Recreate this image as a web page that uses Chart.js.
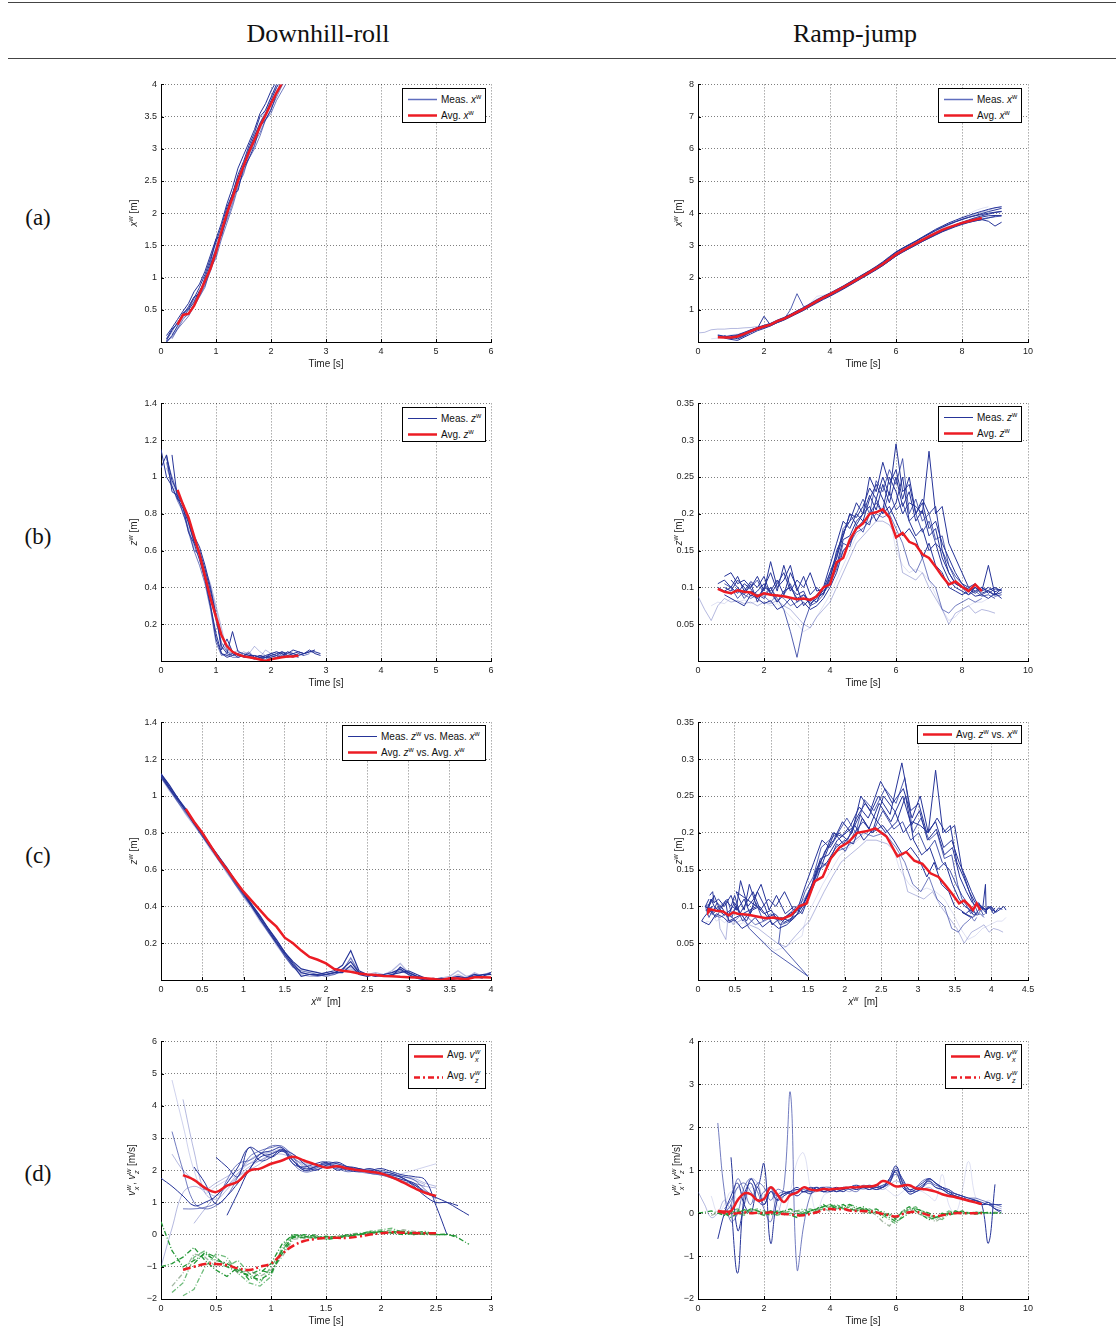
<!DOCTYPE html>
<html>
<head>
<meta charset="utf-8">
<script src="https://cdn.jsdelivr.net/npm/chart.js@4.4.1/dist/chart.umd.min.js"></script>
<style>
  body { margin: 0; background: #fff; width: 1116px; height: 1329px; position: relative; overflow: hidden; font-family: "Liberation Sans", Arial, sans-serif; }
  .rule { position: absolute; width: 1108px; border-top: 1.5px solid #444; }
  .title { position: absolute; font-family: "Liberation Serif", serif; font-size: 26px; color: #111; transform: translate(-50%, -50%); white-space: nowrap; }
  .rowlab { position: absolute; font-family: "Liberation Serif", serif; font-size: 23px; color: #111; transform: translate(-50%, -50%); }
  canvas { position: absolute; }
  .xt { position: absolute; font-size: 10px; color: #222; transform: translate(-50%, -50%); white-space: nowrap; }
  .yt { position: absolute; font-size: 10px; color: #222; transform: translate(-50%, -50%) rotate(-90deg); white-space: nowrap; }
  .leg { position: absolute; background: #fff; border: 1.5px solid #000; box-sizing: border-box; font-size: 10px; color: #111; }
  .lrow { position: absolute; left: 5px; display: flex; align-items: center; gap: 4px; transform: translateY(-50%); white-space: nowrap; }
  sup { font-size: 0.72em; line-height: 0; vertical-align: 0.55em; }
  .st { display: inline-flex; flex-direction: column; font-size: 0.72em; line-height: 1.05; vertical-align: 0.45em; margin-left: 0.5px; }
</style>
</head>
<body>
<script>
const _ = null;

// ---------- Downhill-roll: time grid (s) ----------
const DOWN_T = [0,0.1,0.2,0.3,0.4,0.5,0.6,0.7,0.8,0.9, 1,1.1,1.2,1.3,1.4,1.5,1.6,1.7,1.8,1.9, 2,2.1,2.2,2.3,2.4,2.5,2.6,2.7,2.8,2.9];

// (a) downhill x^w [m]
const downXAvg = [_,_,_,0.27,0.42,0.44,0.56,0.75,0.95,1.14, 1.4,1.72,2.0,2.24,2.5,2.73,2.95,3.14,3.35,3.52, 3.7,3.87,4.02];
const downX1 = [_,0.02,0.18,0.3,0.4,0.5,0.62,0.8,0.92,1.2, 1.45,1.68,2.05,2.3,2.55,2.75,3.0,3.2,3.4,3.55, 3.75,3.95,4.1,4.2];
const downX2 = [-0.05,0.0,0.1,0.25,0.42,0.55,0.7,0.75,1.0,1.25, 1.6,1.65,1.95,2.3,2.35,2.7,2.85,3.05,3.35,3.45, 3.6,3.85,4.0,4.1];
const downX3 = [_,_,0.05,0.2,0.35,0.45,0.58,0.72,0.88,1.1, 1.35,1.7,1.9,2.15,2.45,2.6,2.9,3.1,3.25,3.45, 3.62,3.8,3.98,4.1];
const downX4 = [_,0.05,0.2,0.28,0.45,0.52,0.68,0.85,1.05,1.3, 1.55,1.8,2.1,2.3,2.6,2.8,3.05,3.25,3.5,3.6, 3.8,4.0,4.15];
const downX5 = [-0.1,0.0,0.08,0.2,0.3,0.4,0.55,0.7,0.85,1.15, 1.3,1.6,1.85,2.1,2.4,2.65,2.85,3.0,3.2,3.45, 3.55,3.75,3.9,4.05];
const downX6 = [_,0.1,0.22,0.35,0.48,0.6,0.78,0.9,1.1,1.35, 1.6,1.85,2.15,2.4,2.7,2.9,3.1,3.3,3.55,3.7, 3.9,4.05];
const downX7 = [_,0.05,0.15,0.32,0.4,0.5,0.65,0.78,0.95,1.2, 1.5,1.75,2.0,2.3,2.55,2.8,3.0,3.2,3.4,3.6, 3.8,3.95,4.1];
const downX8 = [_,_,0.12,0.22,0.38,0.42,0.6,0.72,0.9,1.18, 1.4,1.62,1.95,2.2,2.5,2.72,2.95,3.15,3.3,3.5, 3.7,3.9,4.05,4.15];

// (b) downhill z^w [m]
const downZAvg = [_,_,_,0.93,0.85,0.78,0.68,0.58,0.46,0.34, 0.24,0.14,0.08,0.05,0.035,0.025,0.02,0.015,0.008,0.0, 0.01,0.015,0.02,0.025,0.025,0.03];
const downZ1 = [1.15,1.0,0.95,0.88,0.83,0.75,0.65,0.58,0.45,0.3, 0.15,0.04,0.03,0.04,0.02,0.03,0.02,0.01,0.02,0.03, 0.04,0.03,0.05,0.04,0.06,0.05,0.04,0.06,0.04,0.03];
const downZ2 = [1.05,1.12,0.92,0.9,0.85,0.78,0.68,0.62,0.52,0.4, 0.25,0.08,0.04,0.16,0.05,0.04,0.03,0.03,0.02,0.02, 0.03,0.04,0.05,0.03,0.04,0.05,0.04,0.05,0.06];
const downZ3 = [_,1.1,1.0,0.9,0.8,0.72,0.6,0.58,0.48,0.36, 0.22,0.1,0.05,0.03,0.04,0.03,0.02,0.03,0.02,0.01, 0.03,0.02,0.04,0.03,0.02,0.04,0.03];
const downZ4 = [_,1.12,0.98,0.92,0.84,0.7,0.64,0.55,0.44,0.3, 0.12,0.04,0.02,0.03,0.04,0.02,0.02,0.02,0.03,0.02, 0.04,0.05,0.04,0.02,0.03,0.02];
const downZ5 = [_,_,1.12,0.88,0.86,0.76,0.65,0.6,0.5,0.38, 0.25,0.06,0.12,0.05,0.03,0.03,0.04,0.02,0.01,0.02, 0.02,0.03,0.02,0.05,0.04,0.03,0.04,0.05,0.05,0.04];
const downZ6 = [_,1.05,0.97,0.9,0.82,0.76,0.62,0.56,0.48,0.4, 0.28,0.15,0.06,0.04,0.03,0.05,0.04,0.08,0.05,0.03, 0.02,0.04,0.03,0.04,0.05];
const downZ7 = [_,_,1.0,0.92,0.8,0.74,0.66,0.58,0.5,0.42, 0.3,0.18,0.05,0.04,0.06,0.03,0.03,0.03,0.02,0.06, 0.04,0.05,0.04,0.03,0.02,0.03];
const downZ8 = [_,1.08,0.95,0.87,0.81,0.7,0.6,0.52,0.42,0.28, 0.1,0.03,0.04,0.02,0.02,0.03,0.05,0.02,0.03,0.02, 0.01,0.02,0.03,0.05,0.03,0.04,0.03,0.04];

// (c) downhill z^w against x^w, x grid [m]
const DOWN_XG = [0,0.1,0.2,0.3,0.4,0.5,0.6,0.7,0.8,0.9, 1,1.1,1.2,1.3,1.4,1.5,1.6,1.7,1.8,1.9, 2,2.1,2.2,2.3,2.4,2.5,2.6,2.7,2.8,2.9, 3,3.1,3.2,3.3,3.4,3.5,3.6,3.7,3.8,3.9, 4];
const pathAvg = [_,_,_,0.93,0.86,0.8,0.73,0.66,0.6,0.54, 0.48,0.43,0.38,0.33,0.29,0.23,0.2,0.16,0.125,0.11, 0.09,0.06,0.05,0.045,0.035,0.03,0.027,0.022,0.02,0.017, 0.015,0.013,0.01,0.005,0.0,0.01,0.008,0.004,0.015,0.015, 0.013];
const path1 = [1.12,1.05,0.99,0.92,0.86,0.8,0.73,0.67,0.6,0.54, 0.47,0.41,0.34,0.28,0.21,0.15,0.09,0.04,0.03,0.025, 0.03,0.04,0.06,0.1,0.04,0.03,0.025,0.02,0.03,0.04, 0.05,0.03,0.01,0.0,0.0,0.01,0.02,0.01,0.02,0.03, 0.03];
const path2 = [1.11,1.04,0.98,0.92,0.85,0.79,0.72,0.66,0.6,0.53, 0.47,0.4,0.33,0.27,0.2,0.14,0.08,0.02,0.03,0.03, 0.04,0.05,0.08,0.16,0.05,0.03,0.02,0.03,0.04,0.06, 0.03,0.01,0.0,0.005,0.01,0.0,0.01,0.0,0.02,0.01];
const path3 = [1.1,1.04,0.97,0.91,0.85,0.78,0.72,0.65,0.59,0.52, 0.46,0.4,0.33,0.26,0.2,0.13,0.07,0.05,0.04,0.03, 0.02,0.03,0.05,0.12,0.04,0.03,0.03,0.02,0.03,0.05, 0.04,0.02,0.0,0.01,0.0,0.0,0.0,0.01,0.02,0.03, 0.04];
const path4 = [1.12,1.06,0.99,0.93,0.86,0.8,0.73,0.67,0.61,0.54, 0.48,0.41,0.35,0.28,0.22,0.15,0.1,0.06,0.05,0.04, 0.03,0.04,0.04,0.08,0.03,0.02,0.03,0.025,0.02,0.07, 0.04,0.02,0.01,0.0,0.0,0.005,0.01,0.01,0.03,0.02, 0.04];
const path5 = [1.1,1.03,0.97,0.9,0.84,0.78,0.71,0.65,0.58,0.52, 0.45,0.39,0.32,0.26,0.19,0.13,0.07,0.03,0.02,0.02, 0.03,0.04,0.06,0.07,0.04,0.03,0.04,0.03,0.05,0.09, 0.04,0.02,0.0,0.0,0.01,0.02,0.05,0.02,0.03,0.02];
const path6 = [1.11,1.05,0.98,0.92,0.85,0.79,0.72,0.66,0.59,0.53, 0.46,0.4,0.34,0.27,0.2,0.14,0.08,0.04,0.03,0.02, 0.03,0.03,0.05,0.06,0.035,0.03,0.02,0.03,0.04,0.05, 0.03,0.01,0.0,0.0,0.0,0.01,0.03,0.01,0.04,0.02, 0.03];

// (d) downhill velocities [m/s]
const downVxAvg = [_,_,1.85,1.7,1.45,1.32,1.52,1.65,1.98,2.05, 2.2,2.3,2.42,2.3,2.18,2.08,2.12,2.05,2.0,1.95, 1.9,1.78,1.62,1.45,1.3,1.2];
const downVx1 = [_,4.8,3.4,2.0,1.3,1.5,1.7,1.9,2.2,2.4, 2.6,2.7,2.5,2.2,2.1,2.2,2.1,2.0,2.0,1.9, 1.85,1.8,1.9,2.0,2.1,2.2];
const downVx2 = [_,_,4.2,2.6,1.3,1.1,1.4,1.8,2.1,2.3, 2.5,2.6,2.4,2.1,2.0,2.1,2.05,2.0,1.95,1.9, 1.85,1.8,1.7,1.6,1.5,1.45];
const downVx3 = [_,2.5,2.0,1.7,1.4,1.2,1.5,1.9,2.3,2.5, 2.55,2.65,2.5,2.25,2.15,2.2,2.2,2.1,2.0,1.95, 1.9,1.85,1.8,1.75,1.6,1.5];
const downVx4 = [_,3.2,2.0,1.0,0.8,0.9,1.2,1.8,2.4,2.6, 2.7,2.75,2.4,2.0,2.05,2.2,2.15,2.05,2.0,1.95, 2.0,1.9,1.8,1.7,1.4,1.1];
const downVx5 = [1.75,1.5,1.2,0.9,1.0,1.2,1.6,2.1,2.7,2.55, 2.4,2.6,2.5,2.2,2.0,2.15,2.25,2.1,2.0,2.05, 1.95,1.9,1.75,1.55,1.3,1.15,1.0,0.8,0.6];
const downVx6 = [-1.0,0.2,1.3,1.5,1.4,1.6,1.8,2.0,2.2,2.3, 2.45,2.5,2.35,2.2,2.1,2.15,2.1,2.05,1.95,1.9, 1.9,1.85,1.75,1.6,1.5];
const downVx7 = [_,_,_,2.1,1.6,0.95,1.2,1.6,2.0,2.5, 2.6,2.7,2.3,2.0,2.1,2.25,2.2,2.1,2.05,2.0, 2.05,1.95,1.85,1.8,1.7,0.9,0.0];
const downVx8 = [_,_,_,_,_,_,0.6,1.3,2.0,2.4, 2.5,2.6,2.3,2.05,2.1,2.2,2.1,2.0,1.95,2.0, 1.9,1.8,1.7,1.6,1.3];
const downVx9 = [_,_,0.8,0.8,0.85,1.0,1.7,2.2,2.3,2.5, 2.75,2.7,2.2,1.95,2.0,2.1,2.05,1.95,2.0,1.9, 1.85,1.75,1.65,1.55,1.35,1.2];
const downVx10 = [_,_,_,_,_,2.4,2.1,1.8,2.7,2.3, 2.4,2.65,2.2,2.1,2.2,2.25,2.0,2.1,2.05,1.95, 1.9,1.85,1.75,1.5,1.2,1.0,1.0,0.9];
const downVx11 = [_,_,_,0.35,0.8,1.2,1.5,1.8,2.0,2.2, 2.5,2.6,2.4,2.15,2.05,2.15,2.1,2.05,2.0,1.95, 1.9,1.85,1.8,1.7,1.55];
const downVzAvg = [_,_,-1.09,-1.0,-0.91,-0.91,-0.95,-1.05,-1.1,-1.0, -0.9,-0.6,-0.35,-0.2,-0.14,-0.1,-0.1,-0.1,-0.06,0.0, 0.04,0.07,0.06,0.05,0.04,0.04];
const downVz1 = [0.4,-0.5,-1.0,-0.8,-0.6,-0.8,-0.9,-1.1,-1.3,-1.4, -1.2,-0.6,-0.1,0.0,-0.05,-0.1,-0.05,-0.05,0.0,0.05, 0.08,0.05,0.1,0.05,0.0,0.0,0.02,-0.1,-0.3];
const downVz2 = [_,-1.8,-1.5,-0.7,-0.5,-0.9,-1.0,-0.8,-1.2,-1.5, -1.0,-0.5,-0.05,-0.1,-0.1,-0.15,-0.1,-0.05,0.0,0.05, 0.1,0.15,0.1,0.05,0.02];
const downVz3 = [-1.0,-0.9,-0.7,-0.4,-0.8,-1.1,-1.3,-1.0,-1.4,-1.2, -0.9,-0.3,0.0,-0.05,-0.1,-0.05,-0.1,0.0,0.02,0.1, 0.05,0.1,0.05,0.0,0.05,0.0,0.0,-0.05];
const downVz4 = [_,-1.6,-1.2,-0.6,-0.7,-1.0,-0.8,-1.2,-1.1,-1.3, -1.1,-0.7,-0.15,-0.1,-0.05,-0.1,-0.1,0.0,0.05,0.0, 0.1,0.05,0.15,0.1,0.05,0.0];
const downVz5 = [_,_,-1.9,-1.7,-1.0,-0.6,-0.7,-1.2,-1.5,-1.6, -1.3,-0.4,0.0,-0.05,-0.1,-0.1,-0.05,-0.05,0.0,0.1, 0.15,0.2,0.05,0.0,0.05,0.0];
const downVz6 = [_,_,_,-0.9,-0.55,-0.7,-1.0,-1.15,-1.25,-1.1, -1.2,-0.5,-0.05,-0.1,0.0,-0.15,-0.1,-0.05,0.0,0.05, 0.1,0.05,0.0,0.05,0.1,0.0,0.0];

// ---------- Ramp-jump: time grid (s) ----------
const RAMP_T = [0,0.2,0.4,0.6,0.8,1,1.2,1.4,1.6,1.8, 2,2.2,2.4,2.6,2.8,3,3.2,3.4,3.6,3.8, 4,4.2,4.4,4.6,4.8,5,5.2,5.4,5.6,5.8, 6,6.2,6.4,6.6,6.8,7,7.2,7.4,7.6,7.8, 8,8.2,8.4,8.6,8.8,9,9.2];

// ramp x^w per trial [m]
const rampXAvg = [_,_,_,0.15,0.14,0.14,0.17,0.25,0.34,0.42, 0.48,0.54,0.65,0.72,0.82,0.93,1.03,1.15,1.27,1.38, 1.48,1.59,1.7,1.81,1.93,2.05,2.17,2.29,2.42,2.57, 2.72,2.84,2.95,3.06,3.17,3.28,3.38,3.48,3.56,3.63, 3.7,3.75,3.8,3.85];
const rampX1 = [_,_,_,_,0.2,0.12,0.18,0.22,0.36,0.44, 0.5,0.56,0.66,0.74,0.84,0.95,1.05,1.17,1.29,1.4, 1.5,1.61,1.72,1.84,1.96,2.08,2.2,2.32,2.46,2.62, 2.78,2.9,3.01,3.12,3.24,3.35,3.46,3.56,3.65,3.73, 3.8,3.87,3.93,3.99,4.05,4.1,4.15];
const rampX2 = [_,_,_,_,0.18,0.1,0.15,0.2,0.3,0.4, 0.46,0.52,0.62,0.7,1.0,1.5,1.1,1.13,1.25,1.36, 1.46,1.57,1.68,1.79,1.91,2.03,2.15,2.27,2.4,2.55, 2.7,2.82,2.93,3.04,3.15,3.26,3.36,3.46,3.54,3.6, 3.67,3.72,3.76,3.8,3.85,3.9];
const rampX3 = [_,_,_,_,_,0.15,0.1,0.2,0.38,0.42, 0.8,0.52,0.63,0.7,0.8,0.9,1.0,1.12,1.24,1.35, 1.45,1.56,1.67,1.78,1.9,2.02,2.14,2.26,2.39,2.53, 2.68,2.8,2.92,3.03,3.14,3.24,3.34,3.44,3.53,3.62, 3.7,3.77,3.83,3.88,3.92,3.93,3.93];
const rampX4 = [_,_,_,_,0.12,0.08,0.05,0.15,0.25,0.35, 0.42,0.5,0.6,0.68,0.78,0.88,0.98,1.1,1.21,1.32, 1.42,1.53,1.64,1.76,1.88,2.0,2.12,2.24,2.37,2.52, 2.67,2.79,2.9,3.01,3.12,3.22,3.32,3.42,3.5,3.58, 3.65,3.71,3.76,3.8,3.75,3.6,3.72];
const rampX5 = [0.28,0.3,0.38,0.4,0.4,0.42,0.42,0.44,0.45,0.48, 0.5,0.52,0.6,0.7,0.82,0.95,1.08,1.2,1.33,1.42, 1.52,1.62,1.72,1.83,1.95,2.07,2.19,2.3,2.43,2.58, 2.74,2.86,2.97,3.08,3.2,3.31,3.42,3.53,3.63,3.73, 3.82,3.9,3.97,4.03,4.1,4.16,4.2];
const rampX6 = [_,_,_,_,0.16,0.2,0.22,0.28,0.36,0.45, 0.52,0.58,0.68,0.76,0.86,0.97,1.07,1.19,1.31,1.42, 1.52,1.63,1.74,1.86,1.98,2.1,2.22,2.35,2.49,2.65, 2.8,2.92,3.03,3.14,3.26,3.38,3.5,3.6,3.7,3.78, 3.86,3.93,4.0,4.06,4.12,4.17,4.2];
const rampX7 = [_,_,_,_,_,_,0.1,0.18,0.3,0.38, 0.45,0.5,0.6,0.68,0.78,0.9,1.0,1.12,1.24,1.35, 1.45,1.56,1.66,1.78,1.9,2.02,2.14,2.26,2.39,2.54, 2.7,2.82,2.93,3.04,3.15,3.26,3.36,3.46,3.55,3.62, 3.68,3.73,3.77,3.8];
const rampX8 = [_,_,0.1,0.12,0.18,0.22,0.25,0.3,0.36,0.42, 0.48,0.55,0.62,0.7,0.8,0.92,1.05,1.2,1.42,1.45, 1.5,1.6,1.7,1.82,1.94,2.06,2.18,2.3,2.44,2.6, 2.75,2.88,3.0,3.12,3.24,3.36,3.48,3.58,3.68,3.78, 3.88,3.98,4.08,4.15,4.2];
const rampX9 = [_,_,_,0.2,0.16,0.12,0.2,0.26,0.33,0.4, 0.47,0.53,0.63,0.71,0.81,0.91,1.01,1.13,1.25,1.37, 1.47,1.58,1.69,1.8,1.92,2.04,2.16,2.28,2.41,2.56, 2.71,2.83,2.94,3.05,3.16,3.27,3.37,3.47,3.56,3.64, 3.72,3.79,3.86,3.92,3.97,4.02,4.05];
const rampX10 = [_,_,_,0.22,0.18,0.15,0.22,0.3,0.38,0.45, 0.5,0.57,0.66,0.75,0.85,0.96,1.06,1.18,1.3,1.41, 1.51,1.62,1.73,1.85,1.97,2.09,2.21,2.33,2.47,2.63, 2.79,2.91,3.02,3.13,3.25,3.36,3.47,3.57,3.66,3.74, 3.81,3.87,3.92,3.96,4.0,4.03,4.06];
const rampX11 = [_,_,_,_,_,0.12,0.15,0.24,0.31,0.39, 0.46,0.52,0.61,0.69,0.79,0.89,0.99,1.11,1.23,1.34, 1.44,1.55,1.66,1.77,1.89,2.01,2.13,2.25,2.38,2.52, 2.67,2.79,2.9,3.01,3.12,3.23,3.33,3.43,3.52,3.6, 3.67,3.73,3.78,3.82,3.86,3.89,3.91];

// ramp z^w per trial [m]
const rampZAvg = [_,_,_,0.098,0.094,0.092,0.096,0.094,0.093,0.088, 0.092,0.09,0.089,0.088,0.086,0.084,0.085,0.083,0.088,0.1, 0.104,0.134,0.14,0.165,0.18,0.187,0.2,0.202,0.206,0.195, 0.168,0.174,0.162,0.158,0.145,0.14,0.128,0.115,0.104,0.108, 0.101,0.095,0.104,0.095];
const rampZ1 = [_,_,_,_,0.1,0.095,0.11,0.1,0.088,0.095, 0.105,0.093,0.08,0.095,0.1,0.085,0.09,0.078,0.085,0.092, 0.11,0.15,0.17,0.2,0.195,0.21,0.235,0.22,0.25,0.225, 0.295,0.23,0.24,0.2,0.215,0.18,0.19,0.16,0.14,0.12, 0.105,0.1,0.095,0.1,0.092,0.098,0.096];
const rampZ2 = [_,_,_,_,0.105,0.1,0.085,0.095,0.1,0.11, 0.09,0.1,0.085,0.07,0.04,0.005,0.05,0.075,0.08,0.09, 0.12,0.14,0.18,0.19,0.2,0.22,0.2,0.245,0.23,0.26, 0.24,0.275,0.2,0.22,0.19,0.2,0.165,0.17,0.13,0.11, 0.1,0.09,0.095,0.088,0.09,0.085];
const rampZ3 = [_,_,_,_,_,0.11,0.1,0.09,0.105,0.08, 0.1,0.12,0.095,0.13,0.1,0.09,0.095,0.075,0.09,0.095, 0.105,0.13,0.165,0.17,0.19,0.2,0.21,0.19,0.205,0.25, 0.23,0.2,0.215,0.21,0.2,0.285,0.2,0.21,0.16,0.14, 0.12,0.1,0.105,0.095,0.13,0.09,0.098];
const rampZ4 = [_,_,_,_,0.09,0.085,0.08,0.075,0.09,0.085, 0.078,0.082,0.07,0.075,0.085,0.072,0.08,0.07,0.075,0.085, 0.1,0.12,0.15,0.16,0.18,0.19,0.185,0.22,0.2,0.21, 0.19,0.17,0.18,0.165,0.14,0.16,0.13,0.12,0.1,0.095, 0.09,0.095,0.088,0.09,0.085,0.092,0.085];
const rampZ5 = [0.088,0.07,0.055,0.075,0.085,0.08,0.082,0.078,0.08,0.075, 0.08,0.078,0.082,0.075,0.07,0.06,0.05,0.045,0.06,0.07, 0.08,0.1,0.12,0.14,0.16,0.17,0.18,0.19,0.19,0.185, 0.17,0.12,0.115,0.11,0.12,0.1,0.085,0.07,0.05,0.065, 0.07,0.075,0.065,0.07,0.068,0.065];
const rampZ6 = [_,_,_,_,0.115,0.12,0.105,0.11,0.1,0.115, 0.095,0.135,0.1,0.11,0.13,0.095,0.115,0.09,0.1,0.09, 0.115,0.14,0.17,0.2,0.185,0.2,0.25,0.23,0.27,0.24, 0.26,0.22,0.25,0.2,0.22,0.2,0.21,0.15,0.12,0.105, 0.1,0.095,0.1,0.092,0.096,0.1,0.095];
const rampZ7 = [_,_,_,_,_,_,0.095,0.09,0.085,0.09, 0.088,0.08,0.09,0.085,0.075,0.08,0.085,0.08,0.09,0.1, 0.11,0.13,0.15,0.16,0.175,0.18,0.19,0.2,0.195,0.2, 0.18,0.16,0.13,0.12,0.14,0.11,0.1,0.07,0.065,0.075, 0.08,0.085,0.08,0.085];
const rampZ8 = [_,_,0.075,0.08,0.078,0.085,0.08,0.083,0.078,0.082, 0.08,0.075,0.078,0.07,0.06,0.05,0.04,0.045,0.06,0.075, 0.09,0.11,0.13,0.15,0.17,0.18,0.19,0.2,0.21,0.2, 0.15,0.13,0.12,0.125,0.12,0.11,0.09,0.07,0.055,0.06, 0.07,0.075,0.08,0.08,0.085];
const rampZ9 = [_,_,_,0.1,0.095,0.1,0.092,0.105,0.098,0.085, 0.1,0.095,0.11,0.09,0.12,0.1,0.075,0.085,0.08,0.1, 0.13,0.16,0.19,0.18,0.2,0.19,0.22,0.24,0.22,0.2, 0.215,0.25,0.19,0.17,0.18,0.15,0.16,0.13,0.11,0.1, 0.095,0.09,0.1,0.095,0.1,0.094,0.098];
const rampZ10 = [_,_,_,0.105,0.11,0.1,0.115,0.095,0.108,0.1, 0.115,0.09,0.105,0.12,0.095,0.11,0.1,0.12,0.095,0.098, 0.12,0.145,0.175,0.19,0.215,0.2,0.225,0.205,0.24,0.215, 0.25,0.21,0.23,0.19,0.205,0.17,0.18,0.14,0.12,0.105, 0.1,0.098,0.092,0.1,0.095,0.09,0.093];
const rampZ11 = [_,_,_,_,_,0.09,0.1,0.085,0.095,0.09, 0.085,0.1,0.08,0.09,0.105,0.08,0.09,0.082,0.088,0.092, 0.105,0.125,0.16,0.155,0.185,0.175,0.2,0.215,0.2,0.23, 0.205,0.215,0.19,0.2,0.175,0.19,0.16,0.15,0.13,0.115, 0.105,0.095,0.1,0.09,0.095,0.088,0.09];

// ramp velocities [m/s]
const rampVxAvg = [_,_,_,0.05,0.04,0.05,0.3,0.46,0.44,0.3, 0.33,0.6,0.44,0.26,0.42,0.48,0.6,0.55,0.53,0.56, 0.55,0.57,0.58,0.6,0.6,0.62,0.62,0.65,0.75,0.7, 0.62,0.64,0.65,0.58,0.56,0.54,0.5,0.44,0.4,0.37, 0.33,0.29,0.25,0.21];
const rampVx1 = [_,_,_,_,0.1,0.3,0.6,0.7,0.5,0.3, 0.5,0.6,0.3,0.6,2.8,-1.3,-0.3,0.4,0.6,0.5, 0.55,0.5,0.6,0.55,0.6,0.58,0.6,0.55,0.62,0.7, 1.0,0.7,0.5,0.55,0.6,0.7,0.6,0.55,0.45,0.4, 0.35,0.3,0.3,0.25,0.2,0.2,0.15];
const rampVx2 = [_,_,_,_,_,0.2,-1.4,0.4,0.7,0.3, 0.2,0.5,0.4,0.45,0.5,0.55,0.5,0.55,0.6,0.5, 0.55,0.6,0.55,0.6,0.6,0.6,0.55,0.65,0.6,0.8, 1.1,0.7,0.45,0.5,0.6,0.8,0.7,0.6,0.5,0.4, 0.35,0.3,0.25,0.2,0.2,0.1,0.05];
const rampVx3 = [_,_,_,2.1,0.5,-0.2,0.0,0.6,0.8,0.5, 0.1,-0.2,0.4,0.5,0.45,0.5,0.55,0.5,0.6,0.5, 0.5,0.55,0.6,0.6,0.55,0.65,0.6,0.6,0.65,0.75, 1.05,0.75,0.55,0.5,0.6,0.75,0.65,0.6,0.5,0.45, 0.4,0.3,0.3,0.25,0.2,0.2,0.2];
const rampVx4 = [_,_,_,_,_,1.3,-0.4,0.2,0.8,0.6, 1.15,-0.7,0.3,0.45,0.5,0.4,0.5,0.45,0.55,0.6, 0.5,0.55,0.5,0.6,0.65,0.6,0.6,0.55,0.6,0.7, 1.0,0.8,0.55,0.6,0.7,0.8,0.7,0.6,0.55,0.45, 0.4,0.35,0.3,0.2,-0.7,0.67];
const rampVx5 = [_,_,_,-0.6,0.0,0.4,0.7,0.2,0.0,0.6, 0.2,0.5,0.3,0.4,0.5,0.6,0.5,0.6,0.55,0.5, 0.55,0.5,0.55,0.6,0.55,0.6,0.65,0.6,0.6,0.8, 0.95,0.6,0.5,0.55,0.65,0.75,0.6,0.55,0.45,0.4, 0.35,0.3,0.3,0.2,0.25,0.1,0.0];
const rampVx6 = [0.5,0.2,-0.1,0.0,0.3,0.1,0.6,0.4,0.8,0.7, 0.3,0.6,0.0,0.4,0.5,0.45,0.6,0.5,0.5,0.55, 0.6,0.5,0.55,0.5,0.6,0.55,0.6,0.6,0.55,0.65, 0.75,0.65,0.45,0.5,0.55,0.6,0.5,0.45,0.4,0.4, 0.35,0.3,0.25,0.2,0.2,0.15,0.1];
const rampVx7 = [_,_,0.4,0.0,0.2,0.5,0.3,0.2,0.6,0.5, 0.4,0.6,0.2,0.0,0.5,1.2,1.4,0.6,0.0,0.4, 0.5,0.6,0.5,0.6,0.65,0.6,0.55,0.6,0.6,0.5, 0.4,0.5,0.6,0.55,0.5,0.4,0.3,0.9,0.2,0.0, 0.5,1.2,0.4,0.2,0.3,0.2];
const rampVx8 = [_,_,_,_,0.0,0.2,0.8,0.5,0.2,0.7, 0.6,0.3,0.55,0.5,0.45,0.55,0.5,0.5,0.55,0.6, 0.6,0.55,0.6,0.55,0.5,0.6,0.55,0.6,0.65,0.75, 0.9,0.65,0.55,0.6,0.75,0.8,0.7,0.55,0.5,0.45, 0.4,0.35,0.35,0.3,0.25,0.2,0.2];
const rampVzAvg = [_,_,_,0.05,0.0,-0.02,0.0,0.02,0.0,0.01, 0.0,0.02,0.0,-0.02,-0.03,-0.05,-0.05,-0.02,0.02,0.08, 0.1,0.08,0.1,0.06,0.05,0.05,0.04,0.02,-0.02,-0.05, -0.08,-0.02,0.02,0.03,0.0,-0.05,-0.07,-0.05,-0.02,0.0, 0.0,0.0,0.0,0.0];
const rampVz1 = [0.0,0.02,0.05,0.0,-0.05,0.0,0.05,0.02,0.1,0.05, 0.0,-0.05,0.05,0.0,-0.05,-0.1,0.0,0.05,0.1,0.15, 0.2,0.1,0.15,0.2,0.1,0.15,0.05,0.1,0.0,-0.1, -0.2,-0.1,0.0,0.1,0.05,0.0,-0.1,-0.05,0.0,0.05, 0.0,0.02,-0.02,0.0,0.02,0.0,0.01];
const rampVz2 = [_,_,_,0.05,-0.05,0.05,0.1,0.0,0.05,0.1, 0.05,0.0,-0.05,0.05,0.0,-0.05,0.05,0.1,0.05,0.1, 0.15,0.2,0.1,0.15,0.05,0.1,0.05,0.0,-0.05,-0.15, -0.25,-0.05,0.1,0.15,0.0,-0.1,-0.15,-0.05,0.05,0.0, -0.02,0.0,0.03,0.0];
const rampVz3 = [_,_,_,_,0.0,-0.1,0.0,0.08,0.02,0.0, -0.05,0.05,0.0,0.05,0.1,0.0,-0.05,0.05,0.1,0.2, 0.1,0.15,0.2,0.1,0.05,0.1,0.0,0.05,-0.1,0.0, -0.15,0.05,0.15,0.05,-0.05,-0.15,-0.1,0.0,-0.05,0.0, 0.05,0.0,0.0,0.02,0.0];
const rampVz4 = [_,_,-0.05,0.0,0.02,0.05,-0.05,0.0,0.05,-0.02, 0.0,0.05,0.02,-0.05,0.0,0.05,0.0,0.05,0.08,0.1, 0.05,0.1,0.12,0.05,0.1,0.0,0.05,-0.05,-0.2,-0.3, -0.1,0.05,0.1,0.0,-0.05,-0.1,-0.2,-0.1,0.0,0.05, 0.0,-0.02,0.02,0.0,0.0,0.02,0.0];
const rampVz5 = [_,_,_,_,_,0.05,0.0,-0.05,0.1,0.05, 0.0,0.05,-0.05,0.0,0.05,0.05,0.1,0.0,0.05,0.15, 0.2,0.15,0.1,0.2,0.15,0.1,0.1,0.0,0.05,-0.05, -0.1,0.0,0.12,0.1,0.05,-0.05,-0.1,-0.15,0.0,0.0, 0.02,0.0,-0.02,0.0,0.0,0.0];

// ---------- styling ----------
const DARK = 'rgb(38,52,152)';
const MID = 'rgba(40,56,158,0.65)';
const LIGHT = 'rgba(60,72,170,0.38)';
const FAINT = 'rgba(95,105,195,0.2)';
const RED = 'rgb(236,28,36)';
const GREEN = 'rgb(34,150,52)';
const GREEN2 = 'rgba(34,150,52,0.65)';
const GREENGRAY = 'rgba(100,135,100,0.6)';
const GREEN_DASH = [5, 2, 1, 2];

Chart.defaults.font.family = '"Liberation Sans", Arial, sans-serif';

function pts(xs, ys) {
  return ys.map((y, i) => ({x: xs[i], y})).filter(p => p.x != null && p.y != null);
}
function meas(xs, ys, color, extra) {
  return Object.assign({data: pts(xs, ys), borderColor: color, borderWidth: 1, pointRadius: 0, tension: 0}, extra || {});
}
function avg(xs, ys, extra) {
  return Object.assign({data: pts(xs, ys), borderColor: RED, borderWidth: 2.5, pointRadius: 0, tension: 0}, extra || {});
}
function fmt(v) {
  return String(Math.round(v * 1000) / 1000).replace('-', '\u2212');
}

// MATLAB-like inward tick marks on left and bottom axes
const inTicks = {
  id: 'inTicks',
  afterDraw(chart) {
    const {ctx, chartArea: a, scales: {x, y}} = chart;
    ctx.save();
    ctx.strokeStyle = '#000';
    ctx.lineWidth = 1;
    ctx.beginPath();
    x.ticks.forEach(t => {
      const px = Math.round(x.getPixelForValue(t.value)) + 0.5;
      ctx.moveTo(px, a.bottom); ctx.lineTo(px, a.bottom - 3);
    });
    y.ticks.forEach(t => {
      const py = Math.round(y.getPixelForValue(t.value)) + 0.5;
      ctx.moveTo(a.left, py); ctx.lineTo(a.left + 3, py);
    });
    ctx.stroke();
    ctx.restore();
  }
};

function axis(range, isY, hideZero) {
  return {
    type: 'linear', min: range[0], max: range[1],
    afterFit(s) { if (isY) s.width = 50; else s.height = 24; },
    ticks: {
      stepSize: range[2], autoSkip: false, maxRotation: 0, padding: 4,
      color: '#222', font: {size: 9},
      callback: v => (hideZero && v === 0) ? '' : fmt(v)
    },
    grid: {color: 'rgba(0,0,0,0.5)', lineWidth: 1, drawTicks: false},
    border: {display: true, color: '#000', width: 1, dash: [1, 2]}
  };
}

const PW = 330, PH = 259;
function plot(left, top, xr, yr, hideZero, datasets) {
  const cv = document.createElement('canvas');
  cv.width = PW + 64;
  cv.height = PH + 32;
  cv.style.left = (left - 50) + 'px';
  cv.style.top = (top - 8) + 'px';
  document.body.appendChild(cv);
  new Chart(cv.getContext('2d'), {
    type: 'line',
    data: {datasets},
    options: {
      responsive: false, animation: false, devicePixelRatio: 1,
      layout: {padding: {top: 8, right: 14, left: 0, bottom: 0}},
      plugins: {legend: {display: false}, tooltip: {enabled: false}},
      scales: {x: axis(xr, false, false), y: axis(yr, true, hideZero)}
    },
    plugins: [inTicks]
  });
}

function text(cls, x, y, html) {
  const d = document.createElement('div');
  d.className = cls;
  d.style.left = x + 'px';
  d.style.top = y + 'px';
  d.innerHTML = html;
  document.body.appendChild(d);
}

function legend(x, y, w, h, rows) {
  const box = document.createElement('div');
  box.className = 'leg';
  Object.assign(box.style, {left: x + 'px', top: y + 'px', width: w + 'px', height: h + 'px'});
  rows.forEach(r => {
    const row = document.createElement('div');
    row.className = 'lrow';
    row.style.top = r.y + 'px';
    const dash = r.dash ? ` stroke-dasharray="${r.dash}"` : '';
    row.innerHTML = `<svg width="29" height="6"><line x1="0" y1="3" x2="29" y2="3" stroke="${r.color}" stroke-width="${r.w}"${dash}/></svg><span>${r.html}</span>`;
    box.appendChild(row);
  });
  document.body.appendChild(box);
}

// ---------- page frame ----------
text('rule', 8, 2, '');
text('rule', 8, 58, '');
text('title', 318, 34, 'Downhill-roll');
text('title', 855, 34, 'Ramp-jump');
text('rowlab', 38, 218, '(a)');
text('rowlab', 38, 537, '(b)');
text('rowlab', 38, 856, '(c)');
text('rowlab', 38, 1174, '(d)');

const L = 161, R = 698;
const ROWS = [83, 402, 721, 1040];
const xw = '<i>x</i><sup>w</sup>';
const zw = '<i>z</i><sup>w</sup>';
const vx = '<i>v</i><span class="st"><i>w</i><i>x</i></span>';
const vz = '<i>v</i><span class="st"><i>w</i><i>z</i></span>';

// (a) x^w over time
const downXMeas = [downX1, downX2, downX3, downX4, downX5, downX6, downX7, downX8];
const downXShade = [DARK, DARK, MID, DARK, MID, DARK, LIGHT, LIGHT];
plot(L, ROWS[0], [0, 6, 1], [0, 4, 0.5], true,
  [avg(DOWN_T, downXAvg)].concat(downXMeas.map((m, i) => meas(DOWN_T, m, downXShade[i]))));

const rampXMeas = [rampX1, rampX2, rampX3, rampX4, rampX5, rampX6, rampX7, rampX8, rampX9, rampX10, rampX11];
const rampZMeas = [rampZ1, rampZ2, rampZ3, rampZ4, rampZ5, rampZ6, rampZ7, rampZ8, rampZ9, rampZ10, rampZ11];
const rampShade = [DARK, 'rgba(40,56,158,0.8)', DARK, DARK, LIGHT, DARK, MID, FAINT, DARK, DARK, 'rgba(40,56,158,0.85)'];
plot(R, ROWS[0], [0, 10, 2], [0, 8, 1], true,
  [avg(RAMP_T, rampXAvg)].concat(rampXMeas.map((m, i) => meas(RAMP_T, m, rampShade[i]))));

// (b) z^w over time
const downZMeas = [downZ1, downZ2, downZ3, downZ4, downZ5, downZ6, downZ7, downZ8];
const downZShade = [DARK, DARK, MID, DARK, DARK, LIGHT, LIGHT, MID];
plot(L, ROWS[1], [0, 6, 1], [0, 1.4, 0.2], true,
  [avg(DOWN_T, downZAvg)].concat(downZMeas.map((m, i) => meas(DOWN_T, m, downZShade[i]))));
plot(R, ROWS[1], [0, 10, 2], [0, 0.35, 0.05], true,
  [avg(RAMP_T, rampZAvg)].concat(rampZMeas.map((m, i) => meas(RAMP_T, m, rampShade[i]))));

// (c) z^w against x^w
const pathMeas = [path1, path2, path3, path4, path5, path6];
const pathShade = [DARK, DARK, MID, DARK, LIGHT, LIGHT];
plot(L, ROWS[2], [0, 4, 0.5], [0, 1.4, 0.2], true,
  [avg(DOWN_XG, pathAvg)].concat(pathMeas.map((m, i) => meas(DOWN_XG, m, pathShade[i], {borderWidth: 1.2}))));
plot(R, ROWS[2], [0, 4.5, 0.5], [0, 0.35, 0.05], true,
  [avg(rampXAvg, rampZAvg)].concat(rampZMeas.map((m, i) => meas(rampXMeas[i], m, rampShade[i]))));

// (d) velocities
const downVxMeas = [downVx1, downVx2, downVx3, downVx4, downVx5, downVx6, downVx7, downVx8, downVx9, downVx10, downVx11];
const downVxShade = ['rgba(95,105,195,0.3)', LIGHT, LIGHT, MID, DARK, LIGHT, DARK, DARK, MID, DARK, LIGHT];
const downVzMeas = [downVz1, downVz2, downVz3, downVz4, downVz5, downVz6];
const greenShade = [GREEN, GREEN2, GREEN, GREENGRAY, GREEN2, GREEN];
plot(L, ROWS[3], [0, 3, 0.5], [-2, 6, 1], false,
  [avg(DOWN_T, downVxAvg, {tension: 0.4}), avg(DOWN_T, downVzAvg, {tension: 0.4, borderDash: [8, 3, 2, 3]})]
    .concat(downVzMeas.map((m, i) => meas(DOWN_T, m, greenShade[i], {borderWidth: 1.3, borderDash: GREEN_DASH})))
    .concat(downVxMeas.map((m, i) => meas(DOWN_T, m, downVxShade[i], {tension: 0.4}))));

const rampVxMeas = [rampVx1, rampVx2, rampVx3, rampVx4, rampVx5, rampVx6, rampVx7, rampVx8];
const rampVxShade = [MID, DARK, MID, DARK, DARK, LIGHT, FAINT, MID];
const rampVzMeas = [rampVz1, rampVz2, rampVz3, rampVz4, rampVz5];
plot(R, ROWS[3], [0, 10, 2], [-2, 4, 1], false,
  [avg(RAMP_T, rampVxAvg, {tension: 0.4}), avg(RAMP_T, rampVzAvg, {tension: 0.4, borderDash: [8, 3, 2, 3]})]
    .concat(rampVzMeas.map((m, i) => meas(RAMP_T, m, greenShade[i], {borderWidth: 1.3, borderDash: GREEN_DASH})))
    .concat(rampVxMeas.map((m, i) => meas(RAMP_T, m, rampVxShade[i], {tension: 0.4}))));

// ---------- axis titles ----------
const yTitles = [xw + ' [m]', zw + ' [m]', zw + ' [m]', vx + ', ' + vz + ' [m/s]'];
const xTitles = ['Time [s]', 'Time [s]', xw + '&nbsp; [m]', 'Time [s]'];
ROWS.forEach((top, r) => {
  text('yt', 133, top + PH / 2, yTitles[r]);
  text('yt', 678, top + PH / 2, yTitles[r]);
  text('xt', L + PW / 2, top + PH + 21, xTitles[r]);
  text('xt', R + PW / 2, top + PH + 21, xTitles[r]);
});

// ---------- legends ----------
const MEAS_LEG = 'rgb(95,110,190)';
legend(402, 88, 84, 35, [
  {y: 10, color: MEAS_LEG, w: 1.5, html: 'Meas. ' + xw},
  {y: 26, color: RED, w: 2.5, html: 'Avg. ' + xw}]);
legend(938, 88, 84, 35, [
  {y: 10, color: MEAS_LEG, w: 1.5, html: 'Meas. ' + xw},
  {y: 26, color: RED, w: 2.5, html: 'Avg. ' + xw}]);
legend(402, 407, 84, 35, [
  {y: 10, color: DARK, w: 1.2, html: 'Meas. ' + zw},
  {y: 26, color: RED, w: 2.5, html: 'Avg. ' + zw}]);
legend(938, 406, 84, 36, [
  {y: 10, color: DARK, w: 1.2, html: 'Meas. ' + zw},
  {y: 26, color: RED, w: 2.5, html: 'Avg. ' + zw}]);
legend(342, 725, 144, 36, [
  {y: 10, color: DARK, w: 1.2, html: 'Meas. ' + zw + ' vs. Meas. ' + xw},
  {y: 26, color: RED, w: 2.5, html: 'Avg. ' + zw + ' vs. Avg. ' + xw}]);
legend(917, 725, 105, 19, [
  {y: 8, color: RED, w: 2.5, html: 'Avg. ' + zw + ' vs. ' + xw}]);
legend(408, 1044, 78, 45, [
  {y: 11, color: RED, w: 2.5, html: 'Avg. ' + vx},
  {y: 32, color: RED, w: 2.5, dash: '6 3 2 3', html: 'Avg. ' + vz}]);
legend(945, 1044, 77, 45, [
  {y: 11, color: RED, w: 2.5, html: 'Avg. ' + vx},
  {y: 32, color: RED, w: 2.5, dash: '6 3 2 3', html: 'Avg. ' + vz}]);
</script>
</body>
</html>
